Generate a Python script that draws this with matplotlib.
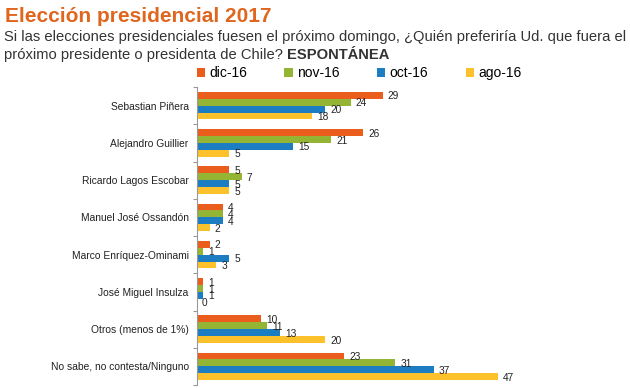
import matplotlib
matplotlib.use("Agg")
import matplotlib.pyplot as plt
import numpy as np

plt.rcParams['font.family'] = ['Liberation Sans', 'DejaVu Sans']

categories = ["Sebastian Piñera", "Alejandro Guillier", "Ricardo Lagos Escobar",
              "Manuel José Ossandón", "Marco Enríquez-Ominami", "José Miguel Insulza",
              "Otros (menos de 1%)", "No sabe, no contesta/Ninguno"]
series_names = ["dic-16", "nov-16", "oct-16", "ago-16"]
dic16 = [29, 26, 5, 4, 2, 1, 10, 23]
nov16 = [24, 21, 7, 4, 1, 1, 11, 31]
oct16 = [20, 15, 5, 4, 5, 1, 13, 37]
ago16 = [18, 5, 5, 2, 3, 0, 20, 47]
series = [dic16, nov16, oct16, ago16]
colors = ["#EA5D1D", "#94B533", "#1D7DC2", "#FCC12B"]

fig = plt.figure(figsize=(6.3, 3.88), dpi=100)
ax = fig.add_axes([197/630, 3/388, 320/630, 298/388])

n = len(categories)
bh = 0.185
y = np.arange(n)
for i, (vals, c, name) in enumerate(zip(series, colors, series_names)):
    ypos = y - 0.5 + 0.13 + bh/2 + i*bh
    ax.barh(ypos, vals, height=bh, color=c, label=name)
    for yy, v in zip(ypos, vals):
        ax.text(v + 0.8, yy + 0.03, str(v), va='center', ha='left', fontsize=7.3, color='#222222')

ax.set_ylim(n - 0.5, -0.5)
ax.set_xlim(0, 50)
ax.set_yticks(np.arange(n + 1) - 0.5, minor=False)
ax.set_yticklabels([])
ax.set_yticks(y, minor=True)
ax.set_yticklabels(categories, minor=True, fontsize=7.4, color='#222222')
ax.tick_params(axis='y', which='minor', length=0, pad=6)
ax.tick_params(axis='y', which='major', length=3, color='#999999', direction='out')
ax.set_xticks([])
for s in ['top', 'right', 'bottom']:
    ax.spines[s].set_visible(False)
ax.spines['left'].set_color('#999999')
ax.spines['left'].set_linewidth(0.8)

fig.text(5/630, 1 - 16/388, "Elección presidencial 2017", fontsize=15, fontweight='bold',
         color='#E0661F', va='center', ha='left')
fig.text(4/630, 1 - 37/388,
         "Si las elecciones presidenciales fuesen el próximo domingo, ¿Quién preferiría Ud. que fuera el",
         fontsize=10.6, color='#333333', va='center', ha='left')
t = fig.text(4/630, 1 - 55/388, "próximo presidente o presidenta de Chile? ", fontsize=10.6,
             color='#333333', va='center', ha='left')
fig.canvas.draw()
bb = t.get_window_extent()
fig.text(bb.x1/630, 1 - 55/388, "ESPONTÁNEA", fontsize=10.6, fontweight='bold',
         color='#333333', va='center', ha='left')

handles, labels = ax.get_legend_handles_labels()
leg = fig.legend(handles, labels, loc='center left', bbox_to_anchor=(184/630, 1 - 73/388), ncol=4,
                 frameon=False, fontsize=10, handlelength=0.6, handleheight=0.6,
                 handletextpad=0.3, columnspacing=2.7)

fig.savefig("out.png", dpi=100)
